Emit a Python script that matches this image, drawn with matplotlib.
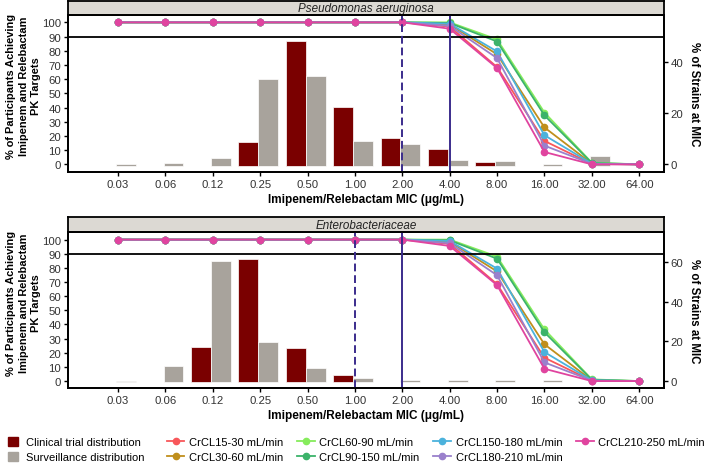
# imipenem/relebactam PTA vs MIC distribution, two organisms

import numpy as np
import matplotlib
matplotlib.use("Agg")
import matplotlib.pyplot as plt
from matplotlib.patches import Patch
from matplotlib.lines import Line2D

plt.rcParams['font.family'] = ['Liberation Sans', 'DejaVu Sans']

mic_labels = ['0.03', '0.06', '0.12', '0.25', '0.50', '1.00', '2.00',
              '4.00', '8.00', '16.00', '32.00', '64.00']

# % of strains at MIC (right axis)
pa_clinical = [np.nan, np.nan, np.nan, 8.6, 48.3, 22.5, 10.5, 5.9, 0.8, np.nan, np.nan, np.nan]
pa_surveillance = [0.2, 0.4, 2.4, 33.3, 34.7, 9.0, 8.0, 1.8, 1.3, 0.2, 3.2, np.nan]
ent_clinical = [np.nan, np.nan, 17.3, 61.6, 16.7, 3.1, np.nan, np.nan, np.nan, np.nan, np.nan, np.nan]
ent_surveillance = [0.2, 7.5, 60.6, 19.5, 6.5, 1.7, 0.5, 0.5, 0.5, 0.5, np.nan, np.nan]

# % of participants achieving PK targets (left axis)
crcl_labels = ['CrCL15-30 mL/min', 'CrCL30-60 mL/min', 'CrCL60-90 mL/min',
               'CrCL90-150 mL/min', 'CrCL150-180 mL/min', 'CrCL180-210 mL/min',
               'CrCL210-250 mL/min']
pta = [
    [100, 100, 100, 100, 100, 100, 100, 97.0, 68.5, 16.5, 0.3, 0],
    [100, 100, 100, 100, 100, 100, 100, 98.5, 77.5, 26.0, 0.5, 0],
    [100, 100, 100, 100, 100, 100, 100, 100, 88.0, 36.5, 1.2, 0],
    [100, 100, 100, 100, 100, 100, 100, 99.5, 86.5, 34.5, 1.0, 0],
    [100, 100, 100, 100, 100, 100, 100, 99.0, 79.5, 20.5, 0.5, 0],
    [100, 100, 100, 100, 100, 100, 100, 97.5, 74.8, 13.2, 0.3, 0],
    [100, 100, 100, 100, 100, 100, 100, 95.5, 67.8, 8.7, 0.0, 0],
]
crcl_colors = ['#f8575a', '#c08f1c', '#86ec5c', '#3cb36a', '#4bb2dc', '#9a80cc', '#e0449f']

bar_red = '#7a0000'
bar_grey = '#a8a39c'
vline_col = '#3b2c8c'

panels = [
    dict(title='Pseudomonas aeruginosa', clin=pa_clinical, surv=pa_surveillance,
         rmax=50, rticks=[0, 20, 40], dash=6, solid=7,
         rect=[0.0963, 0.628, 0.840, 0.3373], strip=[0.0963, 0.9655, 0.840, 0.031]),
    dict(title='Enterobacteriaceae', clin=ent_clinical, surv=ent_surveillance,
         rmax=64, rticks=[0, 20, 40, 60], dash=5, solid=6,
         rect=[0.0963, 0.161, 0.840, 0.336], strip=[0.0963, 0.497, 0.840, 0.033]),
]

fig = plt.figure(figsize=(7.09, 4.64), dpi=100)
x = np.arange(len(mic_labels))
ylo, yhi = -5.1, 105.1

for p in panels:
    ax = fig.add_axes(p['rect'])
    ax2 = ax.twinx()
    ax.set_zorder(ax2.get_zorder() + 1)
    ax.patch.set_visible(False)

    scale = p['rmax'] / 90.0
    base = -0.6
    clin = np.array(p['clin']) - base
    surv = np.array(p['surv']) - base
    ax2.bar(x - 0.25, clin, 0.42, bottom=base, color=bar_red, edgecolor='white', lw=0.5)
    ax2.bar(x + 0.17, surv, 0.42, bottom=base, color=bar_grey, edgecolor='white', lw=0.5)
    ax2.set_ylim(ylo * scale, yhi * scale)
    ax2.set_yticks(p['rticks'])
    ax2.set_ylabel('% of Strains at MIC', rotation=270, labelpad=12,
                   fontsize=8.3, fontweight='bold')

    for vals, c in zip(pta, crcl_colors):
        ax.plot(x, vals, color=c, lw=1.3, marker='o', ms=4.5)

    ax.axhline(90, color='black', lw=1.3)
    ax.axvline(p['dash'], color=vline_col, lw=1.4, ls=(0, (4, 2)))
    ax.axvline(p['solid'], color=vline_col, lw=1.4)

    ax.set_xlim(-1.05, 11.52)
    ax.set_ylim(ylo, yhi)
    ax.set_yticks(range(0, 101, 10))
    ax.set_xticks(x)
    ax.set_xticklabels(mic_labels)
    ax.set_xlabel('Imipenem/Relebactam MIC (\u03bcg/mL)', fontsize=8.5,
                  fontweight='bold', labelpad=3)
    ax.set_ylabel('% of Participants Achieving\nImipenem and Relebactam\nPK Targets',
                  fontsize=7.9, fontweight='bold', linespacing=1.35)
    ax.yaxis.set_label_coords(-0.045, 0.55)

    for a in (ax, ax2):
        a.tick_params(labelsize=8.2, labelcolor='#333333', length=3, width=1, pad=2)
        for s in a.spines.values():
            s.set_linewidth(1.3)

    st = fig.add_axes(p['strip'])
    st.set_facecolor('#dcd9d3')
    st.set_xticks([])
    st.set_yticks([])
    for s in st.spines.values():
        s.set_linewidth(1.3)
    st.text(0.5, 0.5, p['title'], style='italic', fontsize=8.4, color='#222222',
            ha='center', va='center', transform=st.transAxes)

# legends
bar_handles = [Patch(color=bar_red), Patch(color=bar_grey)]
fig.legend(bar_handles, ['Clinical trial distribution', 'Surveillance distribution'],
           loc='upper left', bbox_to_anchor=(0.011, 0.057), frameon=False,
           fontsize=8, handlelength=0.9, handleheight=0.9, handletextpad=0.7,
           labelspacing=0.45, borderpad=0, borderaxespad=0)

line_handles = [Line2D([], [], color=c, lw=1.3, marker='o', ms=4.5) for c in crcl_colors]
fig.legend(line_handles, crcl_labels, ncol=4, loc='upper left',
           bbox_to_anchor=(0.235, 0.057), frameon=False, fontsize=8,
           handlelength=1.6, handletextpad=0.4, columnspacing=1.25,
           labelspacing=0.45, borderpad=0, borderaxespad=0)

plt.savefig('out.png', dpi=100)
